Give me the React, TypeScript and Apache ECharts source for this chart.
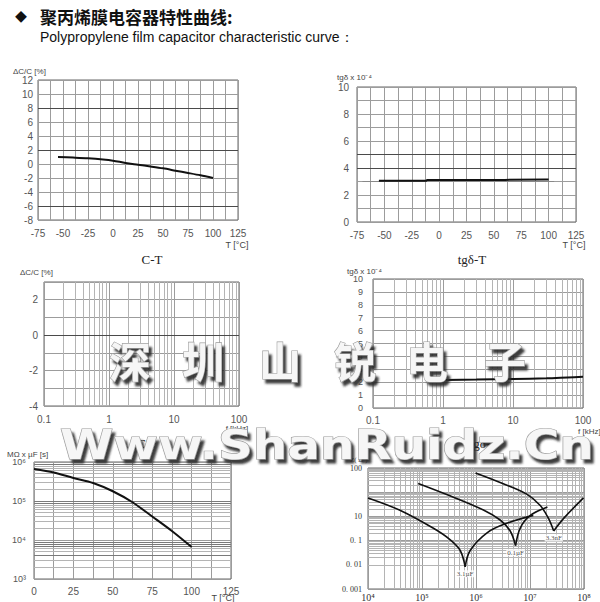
import { useEffect, useRef } from 'react';
import * as echarts from 'echarts';

// ---------- texts ----------
const titleMark = '◆';
const titleCn = '聚丙烯膜电容器特性曲线:';
const titleEn = 'Polypropylene film capacitor characteristic curve：';
const captionTexts = ['C-T', 'tgδ-T', 'C-f', 'tgδ-f'];
const yNames = ['ΔC/C [%]', 'tgδ x 10⁻⁴', 'ΔC/C [%]', 'tgδ x 10⁻⁴', 'MΩ x µF [s]', 'Z( Ω )'];
const xNames = ['T [°C]', 'T [°C]', 'f [kHz]', 'f [kHz]', 'T [°C]'];
const watermarkCn = ['深', '圳', '山', '锐', '电', '子'];
const watermarkUrl = 'Www.ShanRuidz.Cn';

// ---------- data ----------
// C-T
const ctTemp = [-55, -40, -25, -10, 0, 12.5, 25, 37.5, 50, 62.5, 75, 87.5, 100];
const ctDelta = [1.0, 0.92, 0.82, 0.65, 0.48, 0.15, -0.1, -0.35, -0.62, -0.95, -1.28, -1.62, -2.0];
// tgδ-T
const tdTemp = [-55, -12, -11, 60, 97, 100];
const tdValue = [3.05, 3.05, 3.11, 3.12, 3.15, 3.15];
const tdRefTemp = [-70, 105];
const tdRefValue = [3.0, 3.0];
// tgδ-f
const tfFreq = [1, 3, 10, 30, 60, 100];
const tfValue = [2.17, 2.2, 2.25, 2.3, 2.37, 2.42];
const tfRefFreq = [0.65, 1];
const tfRefValue = [2.1, 2.15];
// insulation resistance vs T
const irTemp = [0, 12.5, 25, 37.5, 50, 62.5, 75, 87.5, 100];
const irValue = [6.6e5, 5.4e5, 3.9e5, 2.9e5, 1.78e5, 9.3e4, 4.0e4, 1.7e4, 6.6e3];
// impedance vs f
const zFreqA = [1e4, 3.9e4, 1.6e5, 3.3e5, 5.1e5, 6.3e5, 7.8e5, 1.6e6, 3.7e6, 1.15e7];
const zValueA = [5.8, 1.8, 0.33, 0.11, 0.039, 0.0083, 0.039, 0.21, 0.52, 1.1];
const zFreqB = [8.5e4, 3.3e5, 1.4e6, 2.8e6, 4.3e6, 5.4e6, 6.6e6, 1e7, 2.1e7];
const zValueB = [23, 7.1, 1.8, 0.71, 0.25, 0.062, 0.33, 1.07, 2.45];
const zFreqC = [9.8e5, 2.8e6, 8.7e6, 1.55e7, 2.2e7, 2.75e7, 4.2e7, 9.8e7];
const zValueC = [62, 25, 8.3, 2.8, 0.83, 0.25, 0.83, 5.8];
const capLabels = ['3.1µF', '0.1µF', '3.3nF'];

// ---------- tick labels ----------
const freqTickValues = [0.1, 1, 10, 100];
const freqTickLabels = ['0.1', '1', '10', '100'];
const zTickValues = [100, 1, 0.1, 0.01, 0.001];
const zTickLabels = ['100', '10', '0. 1', '0. 01', '0. 001'];
const supDigits = ['⁰', '¹', '²', '³', '⁴', '⁵', '⁶', '⁷', '⁸', '⁹'];

// ---------- layout ----------
const grids = [
  { left: 38, top: 80, width: 200, height: 140 },
  { left: 357, top: 87, width: 219, height: 135 },
  { left: 44, top: 282, width: 195, height: 124 },
  { left: 373, top: 279, width: 210, height: 129 },
  { left: 34, top: 462, width: 197, height: 117 },
  { left: 368, top: 468, width: 216, height: 123 },
];

const SANS = 'Liberation Sans';
const SERIF = 'Liberation Serif';
const splitCol = '#9c9c9c';
const minorCol = '#b4b4b4';
const darkCol = '#4a4a4a';

const logMinor = (lo: number, hi: number) => {
  const out: number[] = [];
  for (let e = lo; e < hi; e++) for (let k = 2; k <= 9; k++) out.push(Number((k * Math.pow(10, e)).toPrecision(6)));
  return out;
};

const near = (v: number, t: number) => Math.abs(Math.log10(v) - Math.log10(t)) < 0.01;
const pickLabel = (vals: number[], labels: string[]) => (v: number) => {
  const i = vals.findIndex((t) => near(v, t));
  return i >= 0 ? labels[i] : '';
};
const powLabel = (v: number) => '10' + supDigits[Math.round(Math.log10(v))];

const lbl = (margin: number, extra: any = {}) => ({
  fontFamily: SANS, fontSize: 10, color: '#555', margin, ...extra,
});
const base = {
  axisLine: { show: false },
  axisTick: { show: false },
  splitLine: { show: true, lineStyle: { color: splitCol, width: 1 } },
};

function lineSeries(i: number, xs: number[], ys: number[], color = '#111', width = 2, smooth: any = 0.3) {
  return {
    type: 'line', xAxisIndex: i, yAxisIndex: i, silent: true, z: 3,
    data: xs.map((x, k) => [x, ys[k]]),
    showSymbol: false, symbol: 'none', smooth,
    lineStyle: { color, width },
  };
}

function gridSeries(i: number, xs: number[], ys: number[], color: string, width = 1) {
  return {
    type: 'line', xAxisIndex: i, yAxisIndex: i, silent: true, z: 1, data: [],
    markLine: {
      silent: true, symbol: ['none', 'none'], z: 1, animation: false,
      label: { show: false },
      emphasis: { disabled: true },
      lineStyle: { color, width, type: 'solid' },
      data: [...xs.map((v) => ({ xAxis: v })), ...ys.map((v) => ({ yAxis: v }))],
    },
  };
}

// V-shaped curves: split at the minimum so the cusp stays sharp
function vCurve(i: number, xs: number[], ys: number[], label: string) {
  let m = 0;
  ys.forEach((y, k) => { if (y < ys[m]) m = k; });
  return [
    lineSeries(i, xs.slice(0, m + 1), ys.slice(0, m + 1), '#111', 1.6, 0.35),
    lineSeries(i, xs.slice(m), ys.slice(m), '#111', 1.6, 0.35),
    {
      type: 'scatter', xAxisIndex: i, yAxisIndex: i, silent: true, z: 4,
      symbolSize: 1, itemStyle: { color: 'rgba(0,0,0,0)' },
      data: [[xs[m], ys[m]]],
      label: {
        show: true, position: 'bottom', distance: 3, formatter: label,
        fontFamily: SERIF, fontSize: 7, color: '#222', backgroundColor: '#fff', padding: [0, 1],
      },
    },
  ];
}

function txt(text: string, x: number, y: number, font: string, align = 'left', fill = '#444', extra: any = {}, styleExtra: any = {}) {
  return {
    type: 'text', x, y, z: 50, silent: true,
    style: { text, font, fill, textAlign: align, textVerticalAlign: 'middle', ...styleExtra },
    ...extra,
  };
}

function buildOption() {
  const xAxis = [
    { ...base, type: 'value', gridIndex: 0, min: -75, max: 125, interval: 12.5,
      axisLabel: lbl(8, { formatter: (v: number) => (v % 25 === 0 ? String(v) : '') }) },
    { ...base, type: 'value', gridIndex: 1, min: -75, max: 125, interval: 12.5,
      axisLabel: lbl(8, { formatter: (v: number) => (v % 25 === 0 ? String(v) : '') }) },
    { ...base, type: 'log', gridIndex: 2, min: 0.1, max: 100, logBase: 10,
      axisLabel: lbl(8, { formatter: pickLabel(freqTickValues, freqTickLabels) }) },
    { ...base, type: 'log', gridIndex: 3, min: 0.1, max: 100, logBase: 10,
      axisLabel: lbl(7, { formatter: pickLabel(freqTickValues, freqTickLabels) }) },
    { ...base, type: 'value', gridIndex: 4, min: 0, max: 125, interval: 12.5,
      axisLabel: lbl(7, { formatter: (v: number) => (v % 25 === 0 ? String(v) : '') }) },
    { ...base, type: 'log', gridIndex: 5, min: 1e4, max: 1e8, logBase: 10,
      axisLabel: lbl(3, { formatter: powLabel, fontFamily: SERIF, fontSize: 10, color: '#333' }) },
  ];
  const yAxis = [
    { ...base, type: 'value', gridIndex: 0, min: -8, max: 12, interval: 2, axisLabel: lbl(5) },
    { ...base, type: 'value', gridIndex: 1, min: 0, max: 10, interval: 1,
      axisLabel: lbl(8, { formatter: (v: number) => (v % 2 === 0 ? String(v) : '') }) },
    { ...base, type: 'value', gridIndex: 2, min: -4, max: 3, interval: 1,
      axisLabel: lbl(6, { formatter: (v: number) => (v % 2 === 0 ? String(v) : '') }) },
    { ...base, type: 'value', gridIndex: 3, min: 0, max: 10, interval: 1, axisLabel: lbl(10, { fontSize: 9 }) },
    { ...base, type: 'log', gridIndex: 4, min: 1e3, max: 1e6, logBase: 10,
      axisLabel: lbl(8, { formatter: powLabel, fontSize: 9 }) },
    { ...base, type: 'log', gridIndex: 5, min: 1e-3, max: 1e2, logBase: 10,
      axisLabel: lbl(6, { formatter: pickLabel(zTickValues, zTickLabels), fontFamily: SERIF, fontSize: 8, color: '#333' }) },
  ];

  const series: any[] = [
    // grid emphasis / minor grid lines
    gridSeries(0, [], [8, 2, -6], darkCol, 1.2),
    gridSeries(1, [], [4, 5], darkCol, 1.2),
    gridSeries(2, logMinor(-1, 2), [], minorCol, 1),
    gridSeries(2, [], [0], darkCol, 1.2),
    gridSeries(3, logMinor(-1, 2), [], minorCol, 1),
    gridSeries(4, [], logMinor(3, 6), minorCol, 1),
    gridSeries(4, [], [9e5, 1e5, 9e4, 9e3, 8e3, 7e3, 4e3], '#7a7a7a', 1),
    gridSeries(5, logMinor(4, 8), logMinor(-3, 2), minorCol, 1),
    // data
    lineSeries(0, ctTemp, ctDelta, '#111', 2, 0.3),
    lineSeries(1, tdRefTemp, tdRefValue, '#888', 1, false),
    lineSeries(1, tdTemp, tdValue, '#111', 2, false),
    lineSeries(3, tfRefFreq, tfRefValue, '#888', 1, false),
    lineSeries(3, tfFreq, tfValue, '#111', 2, 0.3),
    lineSeries(4, irTemp, irValue, '#111', 2, 0.3),
    ...vCurve(5, zFreqA, zValueA, capLabels[0]),
    ...vCurve(5, zFreqB, zValueB, capLabels[1]),
    ...vCurve(5, zFreqC, zValueC, capLabels[2]),
  ];

  const nameFont = `8px "${SANS}"`;
  const elements: any[] = [
    txt(titleMark, 21, 16, 'bold 12px "Noto Sans CJK SC"', 'center', '#111'),
    txt(titleCn, 40, 16, 'bold 17px "Noto Sans CJK SC"', 'left', '#111'),
    txt(titleEn, 40, 37, `14px "${SANS}"`, 'left', '#111'),
    // y axis names
    txt(yNames[0], 13, 71, nameFont),
    txt(yNames[1], 337, 77, nameFont),
    txt(yNames[2], 20, 272, nameFont),
    txt(yNames[3], 347, 271, nameFont),
    txt(yNames[4], 7, 454, nameFont),
    txt(yNames[5], 350, 460, `7px "${SERIF}"`),
    // x axis names
    txt(xNames[0], 237, 245, `9px "${SANS}"`, 'center'),
    txt(xNames[1], 574, 245, `9px "${SANS}"`, 'center'),
    txt(xNames[2], 237, 428, `8px "${SANS}"`, 'center'),
    txt(xNames[3], 578, 431, `8px "${SANS}"`, 'left'),
    txt(xNames[4], 223, 598, `9px "${SANS}"`, 'center'),
    // captions
    txt(captionTexts[0], 152, 259, `13px "${SERIF}"`, 'center', '#222'),
    txt(captionTexts[1], 472, 259, `13px "${SERIF}"`, 'center', '#222'),
    txt(captionTexts[2], 146, 443, `13px "${SERIF}"`, 'center', '#222'),
    txt(captionTexts[3], 482, 443, `13px "${SERIF}"`, 'center', '#222'),
  ];

  // watermark (white embossed text with a grey drop shadow)
  const wmStyle = {
    stroke: '#9a9a9a', lineWidth: 1.2,
    textShadowColor: 'rgba(40,40,40,0.9)', textShadowBlur: 2, textShadowOffsetX: 3, textShadowOffsetY: 4,
  };
  const cnX = [130, 203, 280, 355, 427, 505];
  const cnFont = 'bold 42px "Noto Sans CJK SC"';
  watermarkCn.forEach((ch, k) => {
    elements.push(txt(ch, cnX[k], 359, cnFont, 'center', '#f6f6f6', { z: 92 }, wmStyle));
  });
  const urlFont = 'bold 41px "DejaVu Sans"';
  elements.push(txt(watermarkUrl, 60, 445, urlFont, 'left', '#f6f6f6', { z: 92, scaleX: 1.18 }, wmStyle));

  return {
    animation: false,
    backgroundColor: '#ffffff',
    grid: grids.map((g) => ({ ...g, show: true, borderColor: '#666', borderWidth: 1, backgroundColor: 'transparent' })),
    xAxis,
    yAxis,
    series,
    graphic: { elements },
  };
}

export default function App() {
  const ref = useRef<HTMLDivElement>(null);
  useEffect(() => {
    if (!ref.current) return;
    const chart = echarts.init(ref.current, undefined, { renderer: 'svg' });
    chart.setOption(buildOption() as any);
    return () => chart.dispose();
  }, []);
  return (
    <div
      ref={ref}
      style={{ position: 'absolute', left: 0, top: 0, width: 600, height: 602, background: '#fff' }}
    />
  );
}
